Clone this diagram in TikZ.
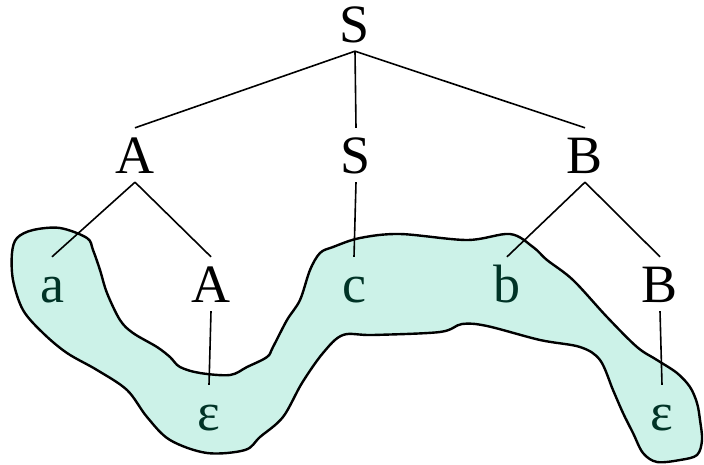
\documentclass[tikz,border=0pt]{standalone}
\usepackage{fontspec}
\newfontfamily\treefont{Liberation Serif}
\usepackage{tikz}
\definecolor{blobfill}{RGB}{204,242,232}
\definecolor{termtext}{RGB}{0,51,38}

\begin{document}
\begin{tikzpicture}[x=1pt,y=-1pt,
  sym/.style={font=\treefont\fontsize{54}{60}\selectfont,anchor=base,text height=36pt,text depth=0pt,inner sep=9pt},
  term/.style={sym,text=termtext},
  edge/.style={draw=black,line width=1.6pt}]
\useasboundingbox (0,0) rectangle (704,464);
% shaded yield
\fill[blobfill,draw=black,line width=2.4pt] plot[smooth cycle,tension=0.55] coordinates {
 (17,238) (12,253) (13,280) (23,310) (43,333) (67,353) (97,370) (127,390) (147,417) (170,440)
 (207,453) (245,450) (260,437) (283,417) (302,383) (323,353) (343,335) (373,335) (440,332)
 (462,324) (487,326) (540,340) (580,347) (600,360) (613,390) (623,413) (633,433) (643,453)
 (657,462) (680,460) (697,455) (702,440) (700,420) (697,403) (690,387) (677,373) (657,360)
 (637,347) (607,317) (573,280) (547,260) (533,247) (510,234) (467,240) (400,234) (360,238)
 (333,247) (320,253) (310,270) (300,300) (287,320) (273,347) (267,357) (247,367) (230,375)
 (200,373) (180,367) (170,357) (157,347) (133,333) (120,320) (107,293) (100,270) (93,250)
 (87,238) (60,228) (33,230)};
% tree
\node[sym] (s0) at (355,42) {S};
\node[sym] (a1) at (135,173) {A};
\node[sym] (s1) at (356,173) {S};
\node[sym] (b1) at (585,173) {B};
\node[term] (ta) at (52,302) {a};
\node[sym] (a2) at (211,302) {A};
\node[term] (tc) at (354,302) {c};
\node[term] (tb) at (507,302) {b};
\node[sym] (b2) at (660,302) {B};
\node[term] (e1) at (209,430) {ε};
\node[term] (e2) at (662,430) {ε};
\draw[edge] (s0.south)--(a1.north);
\draw[edge] (s0.south)--(s1.north);
\draw[edge] (s0.south)--(b1.north);
\draw[edge] (a1.south)--(ta.north);
\draw[edge] (a1.south)--(a2.north);
\draw[edge] (s1.south)--(tc.north);
\draw[edge] (b1.south)--(tb.north);
\draw[edge] (b1.south)--(b2.north);
\draw[edge] (a2.south)--(e1.north);
\draw[edge] (b2.south)--(e2.north);
\end{tikzpicture}
\end{document}
